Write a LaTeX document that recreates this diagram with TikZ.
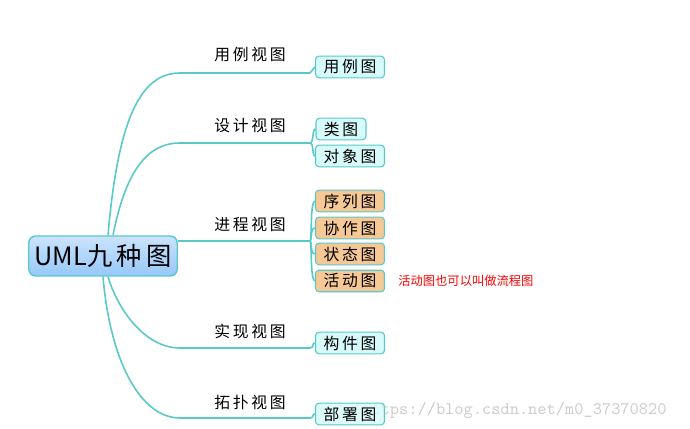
\documentclass[tikz,border=0pt]{standalone}
\usepackage{fontspec}
\setmainfont{Noto Sans CJK SC}
\usetikzlibrary{positioning}
\definecolor{lineteal}{RGB}{90,200,200}
\definecolor{leafcyan}{RGB}{215,250,250}
\definecolor{leaforange}{RGB}{245,200,150}
\definecolor{rootblue}{RGB}{150,200,250}
\tikzset{
  rootbox/.style={draw=lineteal, rounded corners=4pt, top color=rootblue!50, bottom color=rootblue, minimum width=2.94cm, minimum height=0.8cm, font=\Large, line width=0.8pt},
  leafbox/.style={draw=lineteal, rounded corners=2pt, fill=leafcyan, minimum height=0.42cm, inner sep=2pt, font=\small, line width=0.6pt},
  procbox/.style={leafbox, fill=leaforange},
  viewlabel/.style={font=\small},
  branch/.style={draw=lineteal, line width=0.9pt},
}
\begin{document}
\begin{tikzpicture}[x=0.02cm,y=-0.02cm]
\useasboundingbox (0,0) rectangle (690,429);
% root
\node[rootbox] (root) at (103,256) {UML九\,种\,图};
% view labels
\node[viewlabel] (use) at (250,55) {用\,例\,视\,图};
\node[viewlabel] (design) at (250,126) {设\,计\,视\,图};
\node[viewlabel] (proc) at (250,225) {进\,程\,视\,图};
\node[viewlabel] (impl) at (250,331) {实\,现\,视\,图};
\node[viewlabel] (topo) at (250,402) {拓\,扑\,视\,图};
% branch ends
\coordinate (eu) at (310,73);
\coordinate (ed) at (310,143);
\coordinate (ep) at (310,241);
\coordinate (ei) at (310,348);
\coordinate (et) at (310,418);
% watermark
\node[text=black!20, font=\ttfamily, anchor=west] (mark) at (356,410) {https://blog.csdn.net/m0\_37370820};
% leaves
\node[leafbox, minimum width=1.38cm] (usecase) at (350,67) {用\,例\,图};
\node[leafbox, minimum width=1.0cm] (class) at (341,129) {类\,图};
\node[leafbox, minimum width=1.38cm] (object) at (350,156) {对\,象\,图};
\node[procbox, minimum width=1.38cm] (seq) at (350,201) {序\,列\,图};
\node[procbox, minimum width=1.38cm] (collab) at (350,228) {协\,作\,图};
\node[procbox, minimum width=1.38cm] (state) at (350,254) {状\,态\,图};
\node[procbox, minimum width=1.38cm] (activity) at (350,281) {活\,动\,图};
\node[leafbox, minimum width=1.38cm] (comp) at (350,343) {构\,件\,图};
\node[leafbox, minimum width=1.38cm, fill opacity=0.85, text opacity=1] (deploy) at (350,414) {部\,署\,图};
\node[text=red, font=\scriptsize, right=4pt of activity] (note) {活动图也可以叫做流程图};
% branches
\draw[branch] (root.north) ++(5,0) .. controls (118,120) and (140,73) .. (180,73) -- (eu);
\draw[branch] (root.north) ++(10,0) .. controls (125,175) and (145,143) .. (180,143) -- (ed);
\draw[branch] (root.east) ++(0,-15) -- (ep);
\draw[branch] (root.south) ++(5,0) .. controls (118,310) and (145,348) .. (180,348) -- (ei);
\draw[branch] (root.south) ++(0,0) .. controls (110,360) and (140,418) .. (180,418) -- (et);
% leaf links
\draw[branch] (eu) -- (usecase.west);
\draw[branch] (ed) .. controls (314,143) and (312,129) .. (class.west);
\draw[branch] (ed) .. controls (314,143) and (312,156) .. (object.west);
\draw[branch] (ep) .. controls (312,241) and (310,201) .. (seq.west);
\draw[branch] (ep) .. controls (312,241) and (310,228) .. (collab.west);
\draw[branch] (ep) .. controls (312,241) and (310,254) .. (state.west);
\draw[branch] (ep) .. controls (312,241) and (310,281) .. (activity.west);
\draw[branch] (ei) .. controls (314,348) and (312,343) .. (comp.west);
\draw[branch] (et) .. controls (314,418) and (312,414) .. (deploy.west);
\end{tikzpicture}
\end{document}
